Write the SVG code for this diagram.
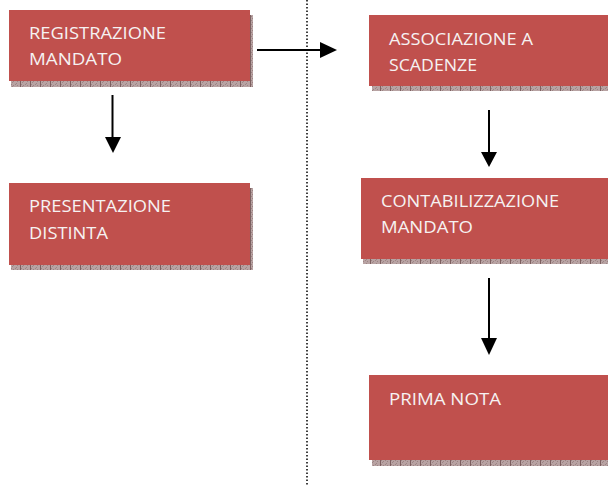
<svg xmlns="http://www.w3.org/2000/svg" width="608" height="486" viewBox="0 0 608 486">
<style>
.box{fill:#C0504D}
.shadow{fill:url(#sh)}
.lbl{font-family:"Open Sans","Noto Sans","Liberation Sans",sans-serif;font-size:17px;fill:#F6F2F2}
.conn{stroke:#000;stroke-width:2;fill:none}
.head{fill:#000}
.div{stroke:#000;stroke-width:1.5;stroke-dasharray:1.5 2;fill:none}
</style>
<defs>
<pattern id="sh" width="10" height="4" patternUnits="userSpaceOnUse">
<rect width="10" height="4" fill="#B8A3A3"/>
<rect x="1" y="0" width="1" height="1" fill="#9C8484"/>
<rect x="3" y="1" width="1" height="1" fill="#9C8484"/>
<rect x="5" y="0" width="1" height="1" fill="#9C8484"/>
<rect x="7" y="1" width="1" height="1" fill="#9C8484"/>
<rect x="2" y="2" width="1" height="1" fill="#9C8484"/>
<rect x="6" y="3" width="1" height="1" fill="#9C8484"/>
<rect x="0" y="0" width="1" height="4" fill="#7D6060"/>
</pattern>
</defs>
<line class="div" x1="307" y1="0" x2="307" y2="486"/>
<g id="n1">
<rect class="shadow" x="11" y="81" width="242" height="6"/>
<rect class="shadow" x="250" y="15" width="3" height="72"/>
<rect class="box" x="9" y="10" width="241" height="71"/>
<text class="lbl" x="29" y="39" textLength="137" lengthAdjust="spacingAndGlyphs">REGISTRAZIONE</text>
<text class="lbl" x="29" y="65" textLength="93" lengthAdjust="spacingAndGlyphs">MANDATO</text>
</g>
<g id="n2">
<rect class="shadow" x="372" y="86" width="236" height="5"/>
<rect class="box" x="369" y="15" width="239" height="71"/>
<text class="lbl" x="389" y="45" textLength="144" lengthAdjust="spacingAndGlyphs">ASSOCIAZIONE A</text>
<text class="lbl" x="389" y="71" textLength="88" lengthAdjust="spacingAndGlyphs">SCADENZE</text>
</g>
<g id="n3">
<rect class="shadow" x="11" y="265" width="242" height="5"/>
<rect class="shadow" x="250" y="188" width="3" height="82"/>
<rect class="box" x="9" y="183" width="241" height="82"/>
<text class="lbl" x="29" y="212" textLength="142" lengthAdjust="spacingAndGlyphs">PRESENTAZIONE</text>
<text class="lbl" x="29" y="239" textLength="79" lengthAdjust="spacingAndGlyphs">DISTINTA</text>
</g>
<g id="n4">
<rect class="shadow" x="363" y="259" width="245" height="5"/>
<rect class="box" x="361" y="178" width="247" height="81"/>
<text class="lbl" x="381" y="207" textLength="178" lengthAdjust="spacingAndGlyphs">CONTABILIZZAZIONE</text>
<text class="lbl" x="381" y="233" textLength="92" lengthAdjust="spacingAndGlyphs">MANDATO</text>
</g>
<g id="n5">
<rect class="shadow" x="372" y="460" width="236" height="6"/>
<rect class="box" x="369" y="375" width="239" height="85"/>
<text class="lbl" x="389" y="405" textLength="112" lengthAdjust="spacingAndGlyphs">PRIMA NOTA</text>
</g>
<g id="connectors">
<line class="conn" x1="112.5" y1="95" x2="112.5" y2="138"/>
<polygon class="head" points="105,137 121,137 113,153"/>
<line class="conn" x1="257" y1="50" x2="321" y2="50"/>
<polygon class="head" points="320,42 320,58 337,50"/>
<line class="conn" x1="489" y1="110" x2="489" y2="153"/>
<polygon class="head" points="481,152 497,152 489,167"/>
<line class="conn" x1="489" y1="278" x2="489" y2="339"/>
<polygon class="head" points="481,338 497,338 489,355"/>
</g>
</svg>
